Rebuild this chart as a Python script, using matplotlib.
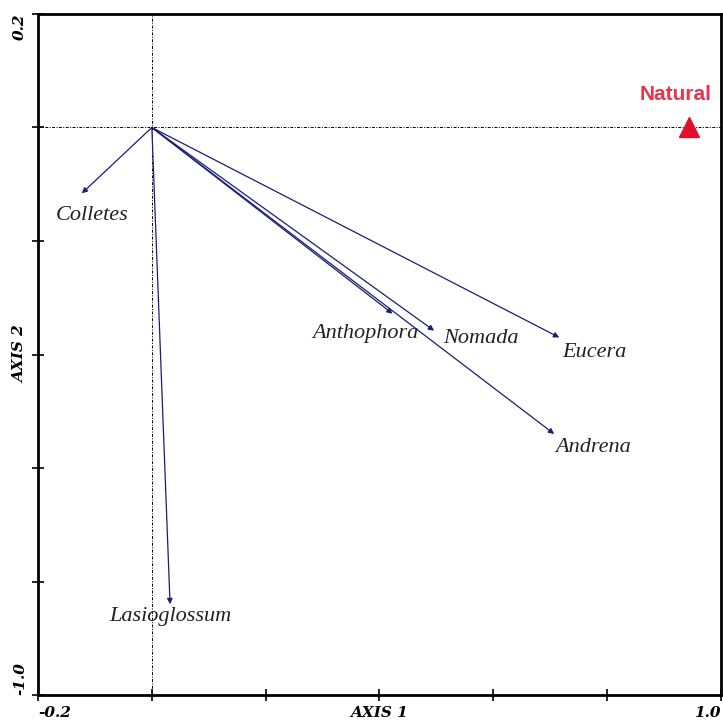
import matplotlib.pyplot as plt

# species vectors (axis 1, axis 2)
species = ["Colletes", "Lasioglossum", "Anthophora", "Nomada", "Eucera", "Andrena"]
axis1 = [-0.123, 0.032, 0.423, 0.496, 0.716, 0.707]
axis2 = [-0.116, -0.840, -0.328, -0.358, -0.370, -0.540]

# label positions next to the arrow tips
label_x = [-0.105, 0.032, 0.375, 0.578, 0.778, 0.776]
label_y = [-0.155, -0.862, -0.363, -0.371, -0.397, -0.564]

site_name = "Natural"
site_x = 0.944
site_y = 0.0

xticks = [-0.2, 0.0, 0.2, 0.4, 0.6, 0.8, 1.0]
xticklabels = ["-0.2", "", "", "AXIS 1", "", "", "1.0"]
yticks = [-1.0, -0.8, -0.6, -0.4, -0.2, 0.0, 0.2]
yticklabels = ["-1.0", "", "", "AXIS 2", "", "", "0.2"]

fig = plt.figure(figsize=(7.23, 7.21), dpi=100)
ax = fig.add_axes([0.0526, 0.036, 0.9445, 0.9446])

ax.set_xlim(-0.2, 1.0)
ax.set_ylim(-1.0, 0.2)

# dotted cross through the origin
ax.axhline(0, color="black", lw=0.7, ls=(0, (3, 1.5, 1, 1.5)), zorder=1)
ax.axvline(0, color="black", lw=0.7, ls=(0, (3, 1.5, 1, 1.5)), zorder=1)

for name, x, y, lx, ly in zip(species, axis1, axis2, label_x, label_y):
    ax.annotate("", xy=(x, y), xytext=(0, 0),
                arrowprops=dict(arrowstyle="-|>", color="#1c1c78", lw=0.9,
                                mutation_scale=8, shrinkA=0, shrinkB=0))
    ax.text(lx, ly, name, fontsize=16, family="Liberation Serif",
            style="italic", color="#222222", ha="center", va="center")

ax.plot([site_x], [site_y], marker="^", color="#e0102d", markersize=15,
        linestyle="none", zorder=3)
ax.text(site_x - 0.024, site_y + 0.058, site_name, fontsize=15,
        fontweight="bold", color="#e8334a", ha="center", va="center",
        family="Liberation Sans")

for s in ax.spines.values():
    s.set_linewidth(2)

ax.set_xticks(xticks)
ax.set_xticklabels(xticklabels, fontsize=11, fontweight="bold",
                   family="DejaVu Serif", style="italic")
ax.set_yticks(yticks)
ax.set_yticklabels(yticklabels, fontsize=11, fontweight="bold",
                   family="DejaVu Serif", style="italic", rotation=90,
                   va="center")
ax.tick_params(direction="inout", length=8, width=1.2, pad=4)

xl = ax.get_xticklabels()
xl[0].set_ha("left")
xl[-1].set_ha("right")
yl = ax.get_yticklabels()
yl[0].set_va("bottom")
yl[-1].set_va("top")

fig.savefig("out.png", dpi=100)
